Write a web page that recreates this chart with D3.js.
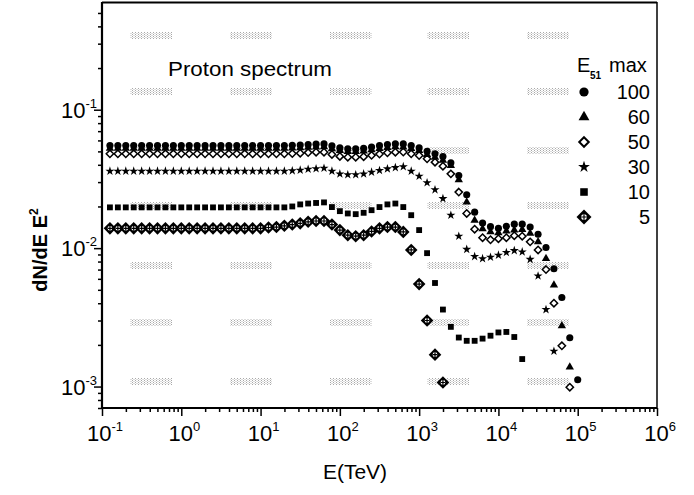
<!DOCTYPE html>
<html>
<head>
<meta charset="utf-8">
<script src="https://cdn.jsdelivr.net/npm/d3@7"></script>
<style>
  body { margin: 0; background: #fff; }
  svg { display: block; font-family: Arial, "Liberation Sans", sans-serif; }
</style>
</head>
<body>
<div id="chart"></div>
<script>
// log10 of E (TeV) for every computed point
const logE = [-0.9, -0.8, -0.7, -0.6, -0.5, -0.4, -0.3, -0.2, -0.1, 0.0,
              0.1, 0.2, 0.3, 0.4, 0.5, 0.6, 0.7, 0.8, 0.9, 1.0,
              1.1, 1.2, 1.3, 1.4, 1.5, 1.6, 1.7, 1.8, 1.9, 2.0,
              2.1, 2.2, 2.3, 2.4, 2.5, 2.6, 2.7, 2.8, 2.9, 3.0,
              3.1, 3.2, 3.3, 3.4, 3.5, 3.6, 3.7, 3.8, 3.9, 4.0,
              4.1, 4.2, 4.3, 4.4, 4.5, 4.6, 4.7, 4.8, 4.9, 5.0];

// dN/dE E^2 for each E51 max
const flux100 = [0.0551, 0.0551, 0.0551, 0.0551, 0.0551, 0.0551, 0.0551, 0.0551, 0.0551, 0.0551,
                 0.0551, 0.0551, 0.0551, 0.0551, 0.0551, 0.0551, 0.0551, 0.0551, 0.0551, 0.0551,
                 0.0551, 0.0551, 0.0551, 0.0553, 0.0556, 0.0560, 0.0564, 0.0566, 0.0548, 0.0530,
                 0.0522, 0.0521, 0.0526, 0.0538, 0.0550, 0.0560, 0.0566, 0.0566, 0.0551, 0.0530,
                 0.0501, 0.0480, 0.0459, 0.0414, 0.0335, 0.0243, 0.0182, 0.0152, 0.0143, 0.0139,
                 0.0144, 0.0149, 0.0149, 0.0142, 0.0126, 0.0101, 0.0071, 0.0044, 0.00225, 0.00112];
const flux60 = [0.0527, 0.0527, 0.0527, 0.0527, 0.0527, 0.0527, 0.0527, 0.0527, 0.0527, 0.0527,
                0.0527, 0.0527, 0.0527, 0.0527, 0.0527, 0.0527, 0.0527, 0.0527, 0.0527, 0.0527,
                0.0527, 0.0527, 0.0527, 0.0529, 0.0531, 0.0534, 0.0537, 0.0539, 0.0522, 0.0506,
                0.0499, 0.0498, 0.0502, 0.0513, 0.0524, 0.0533, 0.0539, 0.0537, 0.0524, 0.0507,
                0.0474, 0.0452, 0.0430, 0.0395, 0.0312, 0.0215, 0.0159, 0.0138, 0.0131, 0.0129,
                0.0133, 0.0135, 0.0136, 0.0128, 0.0111, 0.0084, 0.0054, 0.00275, 0.00138, null];
const flux50 = [0.0480, 0.0480, 0.0480, 0.0480, 0.0480, 0.0480, 0.0480, 0.0480, 0.0480, 0.0480,
                0.0480, 0.0480, 0.0480, 0.0480, 0.0480, 0.0480, 0.0480, 0.0480, 0.0480, 0.0480,
                0.0480, 0.0480, 0.0480, 0.0482, 0.0485, 0.0490, 0.0493, 0.0493, 0.0475, 0.0460,
                0.0454, 0.0454, 0.0458, 0.0468, 0.0478, 0.0488, 0.0493, 0.0495, 0.0480, 0.0467,
                0.0442, 0.0418, 0.0391, 0.0344, 0.0254, 0.0178, 0.0137, 0.0119, 0.0115, 0.0117,
                0.0119, 0.0123, 0.0122, 0.0111, 0.0097, 0.0070, 0.0040, 0.00197, 0.00099, null];
const flux30 = [0.0360, 0.0360, 0.0360, 0.0360, 0.0360, 0.0360, 0.0360, 0.0360, 0.0360, 0.0360,
                0.0360, 0.0360, 0.0360, 0.0360, 0.0360, 0.0360, 0.0360, 0.0360, 0.0360, 0.0360,
                0.0360, 0.0360, 0.0360, 0.0362, 0.0366, 0.0372, 0.0375, 0.0378, 0.0360, 0.0344,
                0.0339, 0.0339, 0.0344, 0.0354, 0.0364, 0.0374, 0.0382, 0.0388, 0.0360, 0.0331,
                0.0297, 0.0264, 0.0228, 0.0173, 0.0122, 0.0098, 0.0087, 0.0084, 0.0086, 0.0089,
                0.0093, 0.0096, 0.0094, 0.0083, 0.0063, 0.0036, 0.0018, null, null, null];
const flux10 = [0.0197, 0.0197, 0.0197, 0.0197, 0.0197, 0.0197, 0.0197, 0.0197, 0.0197, 0.0197,
                0.0197, 0.0197, 0.0197, 0.0197, 0.0197, 0.0197, 0.0197, 0.0197, 0.0197, 0.0197,
                0.0197, 0.0197, 0.0197, 0.0200, 0.0207, 0.0210, 0.0212, 0.0214, 0.0198, 0.0185,
                0.0178, 0.0176, 0.0180, 0.0188, 0.0198, 0.0207, 0.0210, 0.0198, 0.0173, 0.0135,
                0.0092, 0.0056, 0.0036, 0.0027, 0.00226, 0.00214, 0.00214, 0.00222, 0.00233, 0.00246,
                0.00248, 0.00228, 0.00158, null, null, null, null, null, null, null];
const flux5 = [0.0139, 0.0139, 0.0139, 0.0139, 0.0139, 0.0139, 0.0139, 0.0139, 0.0139, 0.0139,
               0.0139, 0.0139, 0.0139, 0.0139, 0.0139, 0.0139, 0.0139, 0.0139, 0.0139, 0.0139,
               0.0141, 0.0142, 0.0145, 0.0148, 0.0151, 0.0155, 0.0157, 0.0157, 0.0148, 0.0135,
               0.0124, 0.0122, 0.0124, 0.0132, 0.0139, 0.0142, 0.0142, 0.0131, 0.0097, 0.0055,
               0.0030, 0.0017, 0.00107, null, null, null, null, null, null, null,
               null, null, null, null, null, null, null, null, null, null];

const legendLabels = ["100", "60", "50", "30", "10", "5"];
const shapes = ["circle", "triangle", "diamond", "star", "square", "crossdiamond"];
const allFlux = [flux100, flux60, flux50, flux30, flux10, flux5];

const xExps = [-1, 0, 1, 2, 3, 4, 5, 6];
const yExps = [-3, -2, -1];

const W = 694, H = 495;
const margin = {top: 2, right: 37, bottom: 87, left: 102};

const svg = d3.select("#chart").append("svg")
    .attr("width", W)
    .attr("height", H);

const x = d3.scaleLog().domain([0.1, 1e6]).range([margin.left, W - margin.right]);
const y = d3.scaleLog().domain([7e-4, 0.6]).range([H - margin.bottom, margin.top]);

// stipple pattern for the grey scan patches in the background
const defs = svg.append("defs");
const pat = defs.append("pattern").attr("id", "stip")
    .attr("width", 3).attr("height", 2).attr("patternUnits", "userSpaceOnUse");
pat.append("rect").attr("width", 1).attr("height", 1).attr("fill", "#a8a8a8");
pat.append("rect").attr("x", 1.5).attr("y", 1).attr("width", 1).attr("height", 1).attr("fill", "#b8b8b8");

const patchCols = [130, 230, 330, 427, 527];
const patchRows = [32, 88, 147, 202, 262, 319, 378];
const bg = svg.append("g");
patchRows.forEach(r => patchCols.forEach(c => {
    bg.append("rect").attr("x", c).attr("y", r).attr("width", 42).attr("height", 7)
      .attr("fill", "url(#stip)");
}));

// ticks
const xMajor = xExps.map(e => Math.pow(10, e));
const xMinor = [];
for (let e = -1; e < 6; e++) for (let k = 2; k <= 9; k++) xMinor.push(k * Math.pow(10, e));
const yMajor = yExps.map(e => Math.pow(10, e));
const yMinor = [7e-4, 8e-4, 9e-4];
for (let e = -3; e < 0; e++) for (let k = 2; k <= 9; k++) {
    const v = k * Math.pow(10, e);
    if (v <= 0.6) yMinor.push(v);
}

const bottom = H - margin.bottom;
function tickStyle(g) {
    g.select(".domain").remove();
    g.selectAll("line").attr("stroke", "#000").attr("stroke-width", 1.5);
}
svg.append("g").attr("transform", `translate(0,${bottom})`)
    .call(d3.axisBottom(x).tickValues(xMinor).tickSize(4).tickFormat(""))
    .call(tickStyle);
svg.append("g").attr("transform", `translate(0,${bottom})`)
    .call(d3.axisBottom(x).tickValues(xMajor).tickSize(8).tickFormat(""))
    .call(tickStyle);
svg.append("g").attr("transform", `translate(${margin.left},0)`)
    .call(d3.axisLeft(y).tickValues(yMinor).tickSize(4).tickFormat(""))
    .call(tickStyle);
svg.append("g").attr("transform", `translate(${margin.left},0)`)
    .call(d3.axisLeft(y).tickValues(yMajor).tickSize(8).tickFormat(""))
    .call(tickStyle);

// frame
svg.append("line").attr("x1", margin.left).attr("x2", W - margin.right)
    .attr("y1", margin.top + 0.5).attr("y2", margin.top + 0.5).attr("stroke", "#000").attr("stroke-width", 2);
svg.append("line").attr("x1", W - margin.right).attr("x2", W - margin.right)
    .attr("y1", margin.top).attr("y2", bottom).attr("stroke", "#000").attr("stroke-width", 1.5);
svg.append("line").attr("x1", margin.left).attr("x2", margin.left)
    .attr("y1", margin.top).attr("y2", bottom + 1).attr("stroke", "#000").attr("stroke-width", 2.2);
svg.append("line").attr("x1", margin.left - 1).attr("x2", W - margin.right)
    .attr("y1", bottom).attr("y2", bottom).attr("stroke", "#000").attr("stroke-width", 2.2);

// tick labels 10^n
function powLabel(sel, e) {
    sel.append("tspan").text("10");
    sel.append("tspan").attr("dy", -10).attr("font-size", 13).text(e < 0 ? "-" + (-e) : e);
}
xExps.forEach(e => {
    const t = svg.append("text").attr("x", x(Math.pow(10, e)) + 3).attr("y", bottom + 33)
        .attr("text-anchor", "middle").attr("font-size", 22).attr("fill", "#000");
    powLabel(t, e);
});
yExps.forEach(e => {
    const t = svg.append("text").attr("x", margin.left - 5).attr("y", y(Math.pow(10, e)) + 8)
        .attr("text-anchor", "end").attr("font-size", 22).attr("fill", "#000");
    powLabel(t, e);
});

// axis titles
svg.append("text").attr("x", 355).attr("y", 479).attr("text-anchor", "middle")
    .attr("font-size", 21).text("E(TeV)");
const yt = svg.append("text").attr("transform", "translate(47,250) rotate(-90)")
    .attr("text-anchor", "middle").attr("font-size", 20).attr("font-weight", "bold");
yt.append("tspan").text("dN/dE E");
yt.append("tspan").attr("dy", -9).attr("font-size", 12).text("2");

svg.append("text").attr("x", 168).attr("y", 76).attr("font-size", 21)
    .attr("textLength", 164).attr("lengthAdjust", "spacingAndGlyphs").text("Proton spectrum");

// markers
function drawMarker(g, shape, big) {
    const s = big ? 1.4 : 1.08;
    if (shape === "circle") {
        g.append("circle").attr("r", 3.3 * s).attr("fill", "#000");
    } else if (shape === "triangle") {
        g.append("path").attr("d", d3.symbol(d3.symbolTriangle, 26 * s * s)()).attr("fill", "#000");
    } else if (shape === "star") {
        g.append("path").attr("d", d3.symbol(d3.symbolStar, 22 * s * s)()).attr("fill", "#000");
    } else if (shape === "square") {
        g.append("rect").attr("x", -2.7 * s).attr("y", -2.7 * s).attr("width", 5.4 * s).attr("height", 5.4 * s).attr("fill", "#000");
    } else if (shape === "diamond") {
        const h = 3.4 * s;
        g.append("path").attr("d", `M0,${-h}L${h},0L0,${h}L${-h},0Z`)
            .attr("fill", "#fff").attr("stroke", "#000").attr("stroke-width", big ? 2 : 1.5);
    } else if (shape === "crossdiamond") {
        const h = big ? 7.5 : 6.3;
        g.append("path").attr("d", `M0,${-h}L${h},0L0,${h}L${-h},0Z`).attr("fill", "#000");
        const r = h * 0.38;
        g.append("circle").attr("r", r).attr("fill", "#fff");
        g.append("path").attr("d", `M${-r},0H${r}M0,${-r}V${r}`).attr("stroke", "#000").attr("stroke-width", 1.2);
    }
}

const plot = svg.append("g");
[5, 4, 3, 2, 1, 0].forEach(si => {
    const pts = logE.map((le, i) => ({e: Math.pow(10, le), v: allFlux[si][i]}))
        .filter(d => d.v != null);
    plot.append("g").selectAll("g").data(pts).join("g")
        .attr("transform", d => `translate(${x(d.e)},${y(d.v)})`)
        .each(function() { drawMarker(d3.select(this), shapes[si], false); });
});

// legend
const lg = svg.append("g");
lg.append("text").attr("x", 577).attr("y", 72).attr("font-size", 20).text("E");
lg.append("text").attr("x", 590).attr("y", 79).attr("font-size", 10).attr("font-weight", "bold").text("51");
lg.append("text").attr("x", 609).attr("y", 72).attr("font-size", 20).text("max");
legendLabels.forEach((lab, i) => {
    const cy = 92 + i * 25;
    drawMarker(lg.append("g").attr("transform", `translate(584,${cy})`), shapes[i], true);
    lg.append("text").attr("x", 650).attr("y", cy + 7).attr("text-anchor", "end")
        .attr("font-size", 20).text(lab);
});
</script>
</body>
</html>
